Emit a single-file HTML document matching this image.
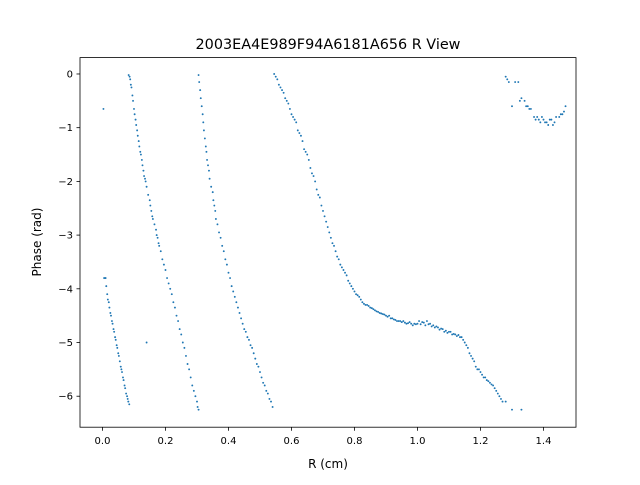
<!DOCTYPE html>
<html><head><meta charset="utf-8"><style>
body{margin:0;background:#fff;font-family:"Liberation Sans","DejaVu Sans",sans-serif;}
svg text{font-family:"DejaVu Sans","Liberation Sans",sans-serif;}
</style></head><body>
<svg id="chart" width="640" height="480" xmlns="http://www.w3.org/2000/svg">
<rect width="640" height="480" fill="#fff"/>
<text x="328" y="49" text-anchor="middle" font-size="14.4">2003EA4E989F94A6181A656 R View</text>
<g id="marks"></g>
<rect x="80" y="57.6" width="496" height="369.6" fill="none" stroke="#000" stroke-width="0.8"/>
<g id="xticks"></g><g id="yticks"></g>
<text x="328" y="468" text-anchor="middle" font-size="12">R (cm)</text>
<text transform="translate(41,242) rotate(-90)" text-anchor="middle" font-size="12">Phase (rad)</text>
</svg>
<script>
const rValues=[0.003,0.14,
0.005,0.01,0.012,0.015,0.02,0.022,0.025,0.03,0.035,0.04,0.045,0.05,0.055,0.06,0.065,0.07,0.075,0.08,0.085,
0.008,0.017,0.027,0.032,0.037,0.042,0.047,0.052,0.058,0.062,0.067,0.072,0.078,0.082,
0.083,0.088,0.09,0.095,0.1,0.105,0.11,0.115,0.12,0.125,0.13,0.135,0.14,0.15,0.155,0.16,0.17,0.175,0.18,0.19,0.2,0.21,0.22,0.23,0.24,0.25,0.26,0.27,0.28,0.29,0.3,0.305,
0.086,0.092,0.097,0.102,0.107,0.112,0.117,0.122,0.127,0.132,0.137,0.145,0.152,0.158,0.165,0.172,0.178,0.185,0.195,0.205,0.215,0.225,0.235,0.245,0.255,0.265,0.275,0.285,0.295,0.302,
0.305,0.31,0.315,0.32,0.325,0.33,0.335,0.34,0.35,0.355,0.36,0.37,0.38,0.39,0.4,0.41,0.42,0.43,0.44,0.45,0.46,0.47,0.48,0.49,0.5,0.51,0.52,0.53,0.54,
0.307,0.312,0.318,0.322,0.328,0.332,0.338,0.345,0.352,0.358,0.365,0.375,0.385,0.395,0.405,0.415,0.425,0.435,0.445,0.455,0.465,0.475,0.485,0.495,0.505,0.515,0.525,0.535,
0.545,0.56,0.58,0.6,0.62,0.64,0.66,0.68,0.7,0.72,0.74,0.76,0.78,0.8,0.82,0.84,0.86,0.88,0.9,0.92,0.94,0.96,0.98,1.0,1.02,1.04,1.06,1.08,1.1,1.12,1.14,1.16,1.18,1.2,1.22,1.24,1.26,1.28,1.3,1.33,
0.55,0.555,0.565,0.57,0.575,0.585,0.59,0.595,0.605,0.61,0.615,0.625,0.63,0.635,0.645,0.65,0.655,0.665,0.67,0.675,0.685,0.69,0.695,0.705,0.71,0.715,0.725,0.73,0.735,0.745,0.75,0.755,0.765,0.77,0.775,0.785,0.79,0.795,0.805,0.81,0.815,0.825,0.83,0.835,0.845,0.85,0.855,0.865,0.87,0.875,0.885,0.89,0.895,0.905,0.91,0.915,0.925,0.93,0.935,0.945,0.95,0.955,0.965,0.97,0.975,0.985,0.99,0.995,1.005,1.01,1.015,1.025,1.03,1.035,1.045,1.05,1.055,1.065,1.07,1.075,1.085,1.09,1.095,1.105,1.11,1.115,1.125,1.13,1.135,1.145,1.15,1.155,1.165,1.17,1.175,1.185,1.19,1.195,1.205,1.21,1.215,1.225,1.23,1.235,1.245,1.25,1.255,1.265,1.27,
1.28,1.29,1.3,1.31,1.32,1.33,1.34,1.35,1.36,1.37,1.38,1.39,1.4,1.41,1.42,1.43,1.44,1.45,1.46,1.47,
1.285,1.325,1.345,1.355,1.375,1.385,1.395,1.405,1.415,1.425,1.435,1.455,1.465];
const phaseValues=[-0.65,-5.0,
-3.8,-3.8,-3.95,-4.1,-4.25,-4.35,-4.45,-4.6,-4.75,-4.9,-5.05,-5.2,-5.35,-5.5,-5.65,-5.8,-5.95,-6.05,-6.15,
-3.8,-4.2,-4.5,-4.65,-4.8,-4.95,-5.1,-5.25,-5.45,-5.55,-5.7,-5.85,-6.0,-6.1,
-0.02,-0.1,-0.2,-0.4,-0.65,-0.85,-1.05,-1.25,-1.45,-1.6,-1.8,-1.95,-2.1,-2.35,-2.55,-2.7,-2.9,-3.05,-3.2,-3.45,-3.65,-3.9,-4.1,-4.35,-4.6,-4.85,-5.1,-5.4,-5.65,-5.9,-6.1,-6.25,
-0.05,-0.25,-0.5,-0.75,-0.95,-1.15,-1.35,-1.5,-1.7,-1.9,-2.0,-2.25,-2.45,-2.65,-2.8,-3.0,-3.15,-3.3,-3.55,-3.8,-4.0,-4.25,-4.5,-4.75,-5.0,-5.25,-5.5,-5.8,-6.0,-6.2,
-0.02,-0.3,-0.6,-0.9,-1.2,-1.45,-1.7,-1.95,-2.2,-2.45,-2.7,-2.95,-3.2,-3.45,-3.7,-3.95,-4.15,-4.35,-4.55,-4.75,-4.9,-5.05,-5.2,-5.4,-5.55,-5.75,-5.9,-6.05,-6.2,
-0.15,-0.45,-0.75,-1.05,-1.35,-1.6,-1.8,-2.1,-2.35,-2.55,-2.8,-3.05,-3.3,-3.55,-3.8,-4.05,-4.25,-4.45,-4.65,-4.8,-4.95,-5.1,-5.3,-5.45,-5.65,-5.8,-5.95,-6.1,
0,-0.2,-0.45,-0.75,-1.05,-1.4,-1.75,-2.15,-2.55,-2.95,-3.3,-3.6,-3.85,-4.05,-4.2,-4.3,-4.38,-4.45,-4.5,-4.55,-4.6,-4.63,-4.65,-4.65,-4.63,-4.65,-4.7,-4.75,-4.8,-4.85,-4.9,-5.1,-5.35,-5.55,-5.7,-5.8,-6.0,-6.1,-6.25,-6.25,
-0.05,-0.1,-0.25,-0.3,-0.35,-0.5,-0.55,-0.65,-0.8,-0.85,-0.9,-1.1,-1.15,-1.25,-1.45,-1.5,-1.6,-1.85,-1.9,-2.0,-2.25,-2.3,-2.45,-2.65,-2.75,-2.85,-3.05,-3.15,-3.2,-3.4,-3.45,-3.55,-3.65,-3.7,-3.75,-3.9,-3.95,-4.0,-4.1,-4.12,-4.15,-4.25,-4.28,-4.3,-4.32,-4.35,-4.36,-4.4,-4.42,-4.43,-4.46,-4.47,-4.48,-4.52,-4.5,-4.55,-4.57,-4.58,-4.6,-4.6,-4.62,-4.6,-4.65,-4.64,-4.62,-4.68,-4.65,-4.66,-4.6,-4.66,-4.62,-4.68,-4.6,-4.66,-4.7,-4.68,-4.72,-4.72,-4.76,-4.74,-4.8,-4.78,-4.82,-4.8,-4.85,-4.84,-4.88,-4.86,-4.9,-4.95,-5.0,-5.05,-5.2,-5.25,-5.3,-5.45,-5.5,-5.5,-5.6,-5.65,-5.65,-5.72,-5.75,-5.78,-5.85,-5.9,-5.95,-6.05,-6.1,
-0.05,-0.15,-0.6,-0.15,-0.15,-0.45,-0.5,-0.6,-0.65,-0.8,-0.8,-0.9,-0.85,-0.9,-0.85,-0.95,-0.8,-0.8,-0.75,-0.6,
-0.1,-0.5,-0.6,-0.65,-0.85,-0.85,-0.8,-0.9,-0.95,-0.85,-0.9,-0.75,-0.7];
const xTickValues=[0,0.2,0.4,0.6,0.8,1.0,1.2,1.4];
const xTickLabels=["0.0","0.2","0.4","0.6","0.8","1.0","1.2","1.4"];
const yTickValues=[0,-1,-2,-3,-4,-5,-6];
const yTickLabels=["0","−1","−2","−3","−4","−5","−6"];
const X0=80,X1=576,Y0=57.6,Y1=427.2,xmin=-0.0714,xmax=1.5032,ymin=-6.577,ymax=0.305;
function sx(v){return X0+(v-xmin)/(xmax-xmin)*(X1-X0);}
function sy(v){return Y1-(v-ymin)/(ymax-ymin)*(Y1-Y0);}
const NS="http://www.w3.org/2000/svg";
function mk(t,a,p){const e=document.createElementNS(NS,t);for(const k in a)e.setAttribute(k,a[k]);p.appendChild(e);return e;}
const marks=document.getElementById('marks');
for(let i=0;i<rValues.length;i++){
 const c=mk('circle',{cx:sx(rValues[i]),cy:sy(phaseValues[i]),r:0.95,fill:'#1f77b4'},marks);
 
 
}
const xt=document.getElementById('xticks');
xTickValues.forEach((v,i)=>{
 const l=mk('line',{x1:sx(v),x2:sx(v),y1:Y1,y2:Y1+3.5,stroke:'#000','stroke-width':0.8},xt);
 
 
 const t=mk('text',{x:sx(v),y:Y1+17,'text-anchor':'middle','font-size':10},xt);
 t.textContent=xTickLabels[i];
 
 
});
const yt=document.getElementById('yticks');
yTickValues.forEach((v,i)=>{
 const l=mk('line',{x1:X0-3.5,x2:X0,y1:sy(v),y2:sy(v),stroke:'#000','stroke-width':0.8},yt);
 
 
 const t=mk('text',{x:X0-7,y:sy(v)+3.5,'text-anchor':'end','font-size':10},yt);
 t.textContent=yTickLabels[i];
 
 
});
</script>
</body></html>
